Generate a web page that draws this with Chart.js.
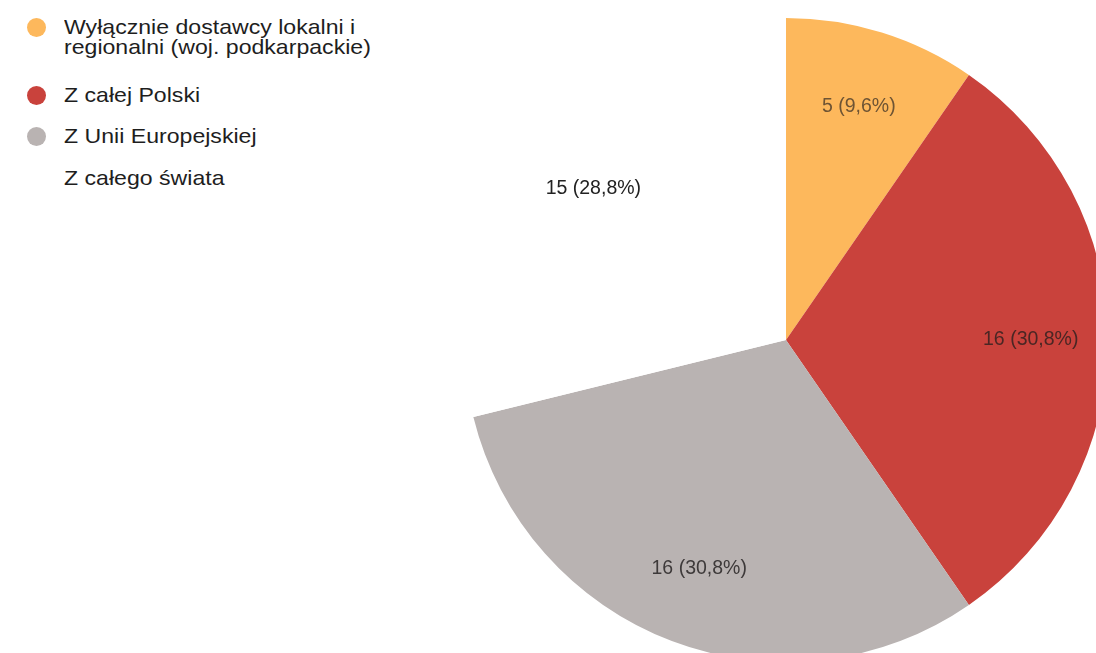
<!DOCTYPE html>
<html lang="pl">
<head>
<meta charset="utf-8">
<title>Dostawcy</title>
<script src="https://cdn.jsdelivr.net/npm/chart.js@4.4.1/dist/chart.umd.min.js"></script>
<style>
  html, body { margin: 0; padding: 0; background: #fff; width: 1096px; height: 653px; overflow: hidden; }
  #wrap { position: relative; width: 1096px; height: 653px; overflow: hidden; }
  #pie { position: absolute; left: 464px; top: 18px; }
  .item { position: absolute; left: 64px; font-family: "Liberation Sans", Arial, sans-serif;
          font-size: 21px; line-height: 20px; color: #1e1e1e; white-space: nowrap; }
  .txt { display: inline-block; transform: scaleX(1.1); transform-origin: 0 50%; }
  .dot { position: absolute; left: -37px; top: 0.5px; width: 19px; height: 19px; border-radius: 50%; }
</style>
</head>
<body>
<div id="wrap">
  <div id="legend"></div>
  <canvas id="pie" width="644" height="644"></canvas>
</div>
<script>
// Supplier origin categories and number of answers
const categories = [
  ["Wyłącznie dostawcy lokalni i", "regionalni (woj. podkarpackie)"],
  ["Z całej Polski"],
  ["Z Unii Europejskiej"],
  ["Z całego świata"]
];
const counts = [5, 16, 16, 15];

// Slice colours and label colours
const sliceColors = ["#FDB85C", "#C9423C", "#B9B3B2", "#FFFFFF"];
const labelColors = ["#6e5434", "#4a2624", "#3e3a3a", "#222222"];

// Legend row tops (px)
const legendTops = [17, 85, 126, 168];

// HTML legend
const legend = document.getElementById("legend");
categories.forEach((lines, i) => {
  const row = document.createElement("div");
  row.className = "item";
  row.style.top = legendTops[i] + "px";
  const txt = document.createElement("span");
  txt.className = "txt";
  txt.innerHTML = lines.join("<br>");
  row.appendChild(txt);
  const dot = document.createElement("span");
  dot.className = "dot";
  dot.style.background = sliceColors[i];
  row.appendChild(dot);
  legend.appendChild(row);
});

const total = counts.reduce((a, b) => a + b, 0);
const fmt = v => v + " (" + (v / total * 100).toFixed(1).replace(".", ",") + "%)";

// Value labels inside each slice
const sliceLabels = {
  id: "sliceLabels",
  afterDatasetsDraw(chart) {
    const ctx = chart.ctx;
    const meta = chart.getDatasetMeta(0);
    ctx.save();
    ctx.font = '19.5px "Liberation Sans", Arial, sans-serif';
    ctx.textAlign = "center";
    ctx.textBaseline = "middle";
    meta.data.forEach((arc, i) => {
      const p = arc.getProps(["x", "y", "startAngle", "endAngle", "outerRadius"], true);
      const mid = (p.startAngle + p.endAngle) / 2;
      const r = p.outerRadius * 0.76;
      ctx.fillStyle = labelColors[i];
      ctx.fillText(fmt(counts[i]), p.x + Math.cos(mid) * r, p.y + Math.sin(mid) * r);
    });
    ctx.restore();
  }
};

new Chart(document.getElementById("pie"), {
  type: "pie",
  data: {
    labels: categories.map(l => l.join(" ")),
    datasets: [{
      data: counts,
      backgroundColor: sliceColors,
      borderWidth: 0,
      hoverOffset: 0
    }]
  },
  options: {
    responsive: false,
    animation: false,
    devicePixelRatio: 1,
    layout: { padding: 0 },
    plugins: {
      legend: { display: false },
      tooltip: { enabled: false }
    }
  },
  plugins: [sliceLabels]
});
</script>
</body>
</html>
